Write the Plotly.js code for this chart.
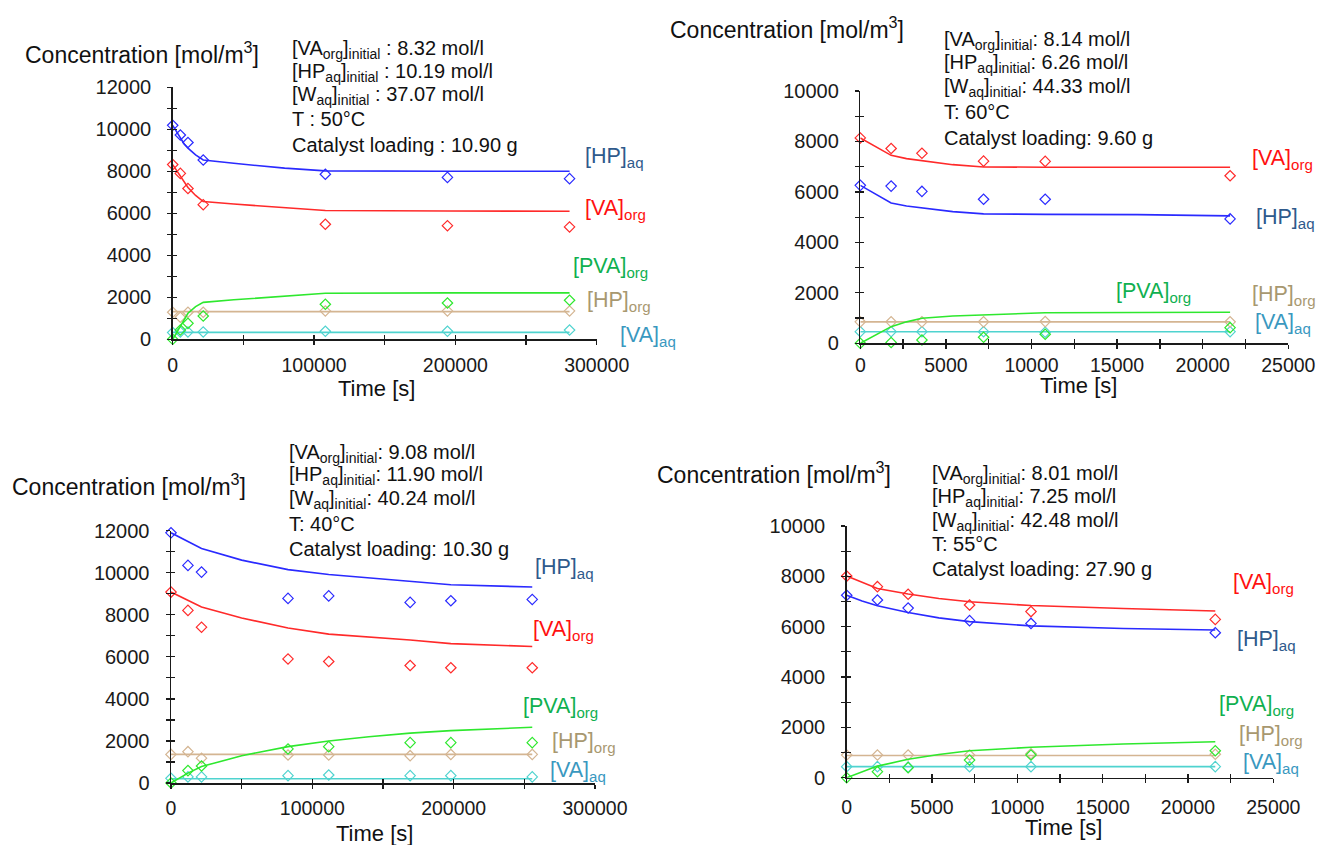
<!DOCTYPE html>
<html>
<head>
<meta charset="utf-8">
<script src="https://cdn.plot.ly/plotly-3.0.1.min.js"></script>
<style>html,body{margin:0;padding:0;background:#fff;}#chart{width:1319px;height:845px;}</style>
</head>
<body>
<div id="chart"></div>
<script>
// ---------------- DATA ----------------
const speciesNames = ["HPaq", "VAorg", "PVAorg", "HPorg", "VAaq"];
const speciesLabels = ["[HP]<sub>aq</sub>", "[VA]<sub>org</sub>", "[PVA]<sub>org</sub>", "[HP]<sub>org</sub>", "[VA]<sub>aq</sub>"];

// Panel 1 (50 °C)
const p1_t      = [0, 5400, 10800, 21600, 108000, 194400, 280800];
const p1_HPaq   = [10190, 9730, 9370, 8540, 7860, 7710, 7650];
const p1_VAorg  = [8320, 7900, 7180, 6410, 5480, 5410, 5350];
const p1_PVAorg = [0, 440, 760, 1110, 1670, 1730, 1860];
const p1_HPorg  = [1290, 1050, 1290, 1290, 1350, 1350, 1350];
const p1_VAaq   = [320, 350, 350, 350, 380, 380, 440];
const p1_fit_t      = [0, 2700, 5400, 8100, 10800, 16200, 21600, 43200, 79200, 108000, 194400, 280800];
const p1_fit_HPaq   = [10190, 9880, 9570, 9300, 9100, 8780, 8540, 8380, 8150, 8020, 8000, 8000];
const p1_fit_VAorg  = [8320, 8050, 7750, 7450, 7230, 6850, 6560, 6440, 6250, 6130, 6110, 6100];
const p1_fit_PVAorg = [0, 320, 620, 950, 1240, 1560, 1760, 1880, 2050, 2190, 2210, 2210];
const p1_fit_HPorg  = [1320, 1320, 1320, 1320, 1320, 1320, 1320, 1320, 1320, 1320, 1320, 1320];
const p1_fit_VAaq   = [330, 330, 330, 330, 330, 330, 330, 330, 330, 330, 330, 330];
const p1_info = ["[VA<sub>org</sub>]<sub>initial</sub> : 8.32 mol/l", "[HP<sub>aq</sub>]<sub>initial</sub> : 10.19 mol/l", "[W<sub>aq</sub>]<sub>initial</sub> : 37.07 mol/l", "T : 50°C", "Catalyst loading : 10.90 g"];

// Panel 2 (60 °C)
const p2_t      = [0, 1800, 3600, 7200, 10800, 21600];
const p2_HPaq   = [6260, 6230, 6020, 5710, 5710, 4930];
const p2_VAorg  = [8140, 7720, 7530, 7220, 7210, 6640];
const p2_PVAorg = [0, 30, 130, 240, 360, 620];
const p2_HPorg  = [850, 850, 850, 850, 860, 850];
const p2_VAaq   = [460, 460, 460, 460, 440, 460];
const p2_fit_t      = [0, 900, 1800, 2700, 3600, 5400, 7200, 9000, 10800, 16200, 21600];
const p2_fit_HPaq   = [6260, 5900, 5560, 5440, 5360, 5220, 5130, 5110, 5110, 5100, 5050];
const p2_fit_VAorg  = [8140, 7780, 7450, 7320, 7240, 7080, 6990, 6980, 6980, 6980, 6980];
const p2_fit_PVAorg = [0, 340, 660, 850, 990, 1080, 1130, 1190, 1210, 1220, 1230];
const p2_fit_HPorg  = [850, 850, 850, 850, 850, 850, 850, 850, 850, 850, 850];
const p2_fit_VAaq   = [460, 460, 460, 460, 460, 460, 460, 460, 460, 460, 460];
const p2_info = ["[VA<sub>org</sub>]<sub>initial</sub>: 8.14 mol/l", "[HP<sub>aq</sub>]<sub>initial</sub>: 6.26 mol/l", "[W<sub>aq</sub>]<sub>initial</sub>: 44.33 mol/l", "T: 60°C", "Catalyst loading: 9.60 g"];

// Panel 3 (40 °C)
const p3_t      = [0, 12000, 21600, 82800, 111600, 169200, 198000, 255600];
const p3_HPaq   = [11900, 10350, 10030, 8780, 8900, 8590, 8670, 8730];
const p3_VAorg  = [9080, 8210, 7410, 5900, 5780, 5590, 5480, 5480];
const p3_PVAorg = [0, 590, 810, 1620, 1730, 1920, 1920, 1920];
const p3_HPorg  = [1360, 1490, 1180, 1330, 1330, 1300, 1360, 1360];
const p3_VAaq   = [220, 290, 290, 350, 380, 350, 350, 290];
const p3_fit_t      = [0, 12000, 21600, 50000, 82800, 111600, 140000, 169200, 198000, 255600];
const p3_fit_HPaq   = [11900, 11500, 11150, 10600, 10150, 9920, 9750, 9580, 9430, 9320];
const p3_fit_VAorg  = [9080, 8700, 8370, 7850, 7370, 7080, 6950, 6800, 6630, 6490];
const p3_fit_PVAorg = [0, 470, 780, 1300, 1730, 2000, 2200, 2370, 2490, 2650];
const p3_fit_HPorg  = [1360, 1360, 1360, 1360, 1360, 1360, 1360, 1360, 1360, 1360];
const p3_fit_VAaq   = [200, 200, 200, 200, 200, 200, 200, 200, 200, 200];
const p3_info = ["[VA<sub>org</sub>]<sub>initial</sub>: 9.08 mol/l", "[HP<sub>aq</sub>]<sub>initial</sub>: 11.90 mol/l", "[W<sub>aq</sub>]<sub>initial</sub>: 40.24 mol/l", "T: 40°C", "Catalyst loading: 10.30 g"];

// Panel 4 (55 °C)
const p4_t      = [0, 1800, 3600, 7200, 10800, 21600];
const p4_HPaq   = [7250, 7060, 6740, 6240, 6130, 5760];
const p4_VAorg  = [8010, 7590, 7290, 6860, 6600, 6290];
const p4_PVAorg = [0, 240, 400, 700, 900, 1070];
const p4_HPorg  = [900, 900, 900, 900, 950, 930];
const p4_VAaq   = [440, 440, 420, 440, 440, 440];
const p4_fit_t      = [0, 900, 1800, 3600, 5400, 7200, 10800, 16200, 21600];
const p4_fit_HPaq   = [7250, 7020, 6830, 6560, 6350, 6200, 6030, 5930, 5870];
const p4_fit_VAorg  = [8010, 7750, 7520, 7300, 7120, 6990, 6840, 6720, 6620];
const p4_fit_PVAorg = [0, 230, 460, 730, 920, 1070, 1210, 1340, 1430];
const p4_fit_HPorg  = [880, 880, 880, 880, 880, 880, 880, 880, 880];
const p4_fit_VAaq   = [440, 440, 440, 440, 440, 440, 440, 440, 440];
const p4_info = ["[VA<sub>org</sub>]<sub>initial</sub>: 8.01 mol/l", "[HP<sub>aq</sub>]<sub>initial</sub>: 7.25 mol/l", "[W<sub>aq</sub>]<sub>initial</sub>: 42.48 mol/l", "T: 55°C", "Catalyst loading: 27.90 g"];

const yTitle = "Concentration [mol/m<sup>3</sup>]";
const xTitle = "Time [s]";

// ---------------- STYLE / LAYOUT ----------------
const W = 1319, H = 845;
const FONT = "Arial, 'Liberation Sans', sans-serif";
const lineColors  = {HPaq: "#2a2aff", VAorg: "#ff2a2a", PVAorg: "#2ee82e", HPorg: "#d4b592", VAaq: "#4fd3cf"};
const labelColors = {HPaq: "#2f5a8c", VAorg: "#ff1010", PVAorg: "#10b050", HPorg: "#a89870", VAaq: "#3a98bf"};

const panels = [
  {t: p1_t, d: {HPaq: p1_HPaq, VAorg: p1_VAorg, PVAorg: p1_PVAorg, HPorg: p1_HPorg, VAaq: p1_VAaq},
   ft: p1_fit_t, f: {HPaq: p1_fit_HPaq, VAorg: p1_fit_VAorg, PVAorg: p1_fit_PVAorg, HPorg: p1_fit_HPorg, VAaq: p1_fit_VAaq},
   info: p1_info, xso: 4,
   box: {x0: 172.7, x1: 596.7, yb: 339.3, yt: 87.3}, xr: [0, 300000], yr: [0, 12000], xd: 100000, xm: 50000, yd: 2000, ym: 1000,
   title: [23, 53], xt: [376, 388], infoPos: [290, [49, 72, 96, 119.5, 144.5]],
   labels: {HPaq: [583, 158], VAorg: [583, 210], PVAorg: [571, 267], HPorg: [585, 302], VAaq: [618, 337]}},
  {t: p2_t, d: {HPaq: p2_HPaq, VAorg: p2_VAorg, PVAorg: p2_PVAorg, HPorg: p2_HPorg, VAaq: p2_VAaq},
   ft: p2_fit_t, f: {HPaq: p2_fit_HPaq, VAorg: p2_fit_VAorg, PVAorg: p2_fit_PVAorg, HPorg: p2_fit_HPorg, VAaq: p2_fit_VAaq},
   info: p2_info, xso: 0,
   box: {x0: 860.3, x1: 1288.3, yb: 343.3, yt: 91}, xr: [0, 25000], yr: [0, 10000], xd: 5000, xm: 2500, yd: 2000, ym: 1000,
   title: [668, 28], xt: [1078, 385], infoPos: [942, [40, 63.5, 87, 112, 138]],
   labels: {VAorg: [1250, 160], HPaq: [1254, 218], PVAorg: [1114, 292], HPorg: [1250, 295], VAaq: [1253, 323]}},
  {t: p3_t, d: {HPaq: p3_HPaq, VAorg: p3_VAorg, PVAorg: p3_PVAorg, HPorg: p3_HPorg, VAaq: p3_VAaq},
   ft: p3_fit_t, f: {HPaq: p3_fit_HPaq, VAorg: p3_fit_VAorg, PVAorg: p3_fit_PVAorg, HPorg: p3_fit_HPorg, VAaq: p3_fit_VAaq},
   info: p3_info, xso: 3,
   box: {x0: 171, x1: 595, yb: 783, yt: 530.7}, xr: [0, 300000], yr: [0, 12000], xd: 100000, xm: 50000, yd: 2000, ym: 1000,
   title: [10, 485], xt: [375, 833], infoPos: [287, [453, 476, 499.5, 524, 548.5]],
   labels: {HPaq: [533, 568], VAorg: [531, 630], PVAorg: [521, 707], HPorg: [550, 742], VAaq: [548, 771]}},
  {t: p4_t, d: {HPaq: p4_HPaq, VAorg: p4_VAorg, PVAorg: p4_PVAorg, HPorg: p4_HPorg, VAaq: p4_VAaq},
   ft: p4_fit_t, f: {HPaq: p4_fit_HPaq, VAorg: p4_fit_VAorg, PVAorg: p4_fit_PVAorg, HPorg: p4_fit_HPorg, VAaq: p4_fit_VAaq},
   info: p4_info, xso: 7,
   box: {x0: 846.7, x1: 1273.3, yb: 777.7, yt: 526}, xr: [0, 25000], yr: [0, 10000], xd: 5000, xm: 2500, yd: 2000, ym: 1000,
   title: [655, 473], xt: [1063, 827], infoPos: [930, [474, 497, 521, 543.5, 568.5]],
   labels: {VAorg: [1231, 583], HPaq: [1235, 640], PVAorg: [1217, 705], HPorg: [1237, 735], VAaq: [1241, 763]}}
];

const px = v => v / W;
const py = v => 1 - v / H;
const AX = "#1a1a1a";

const traces = [];
const layout = {
  width: W, height: H, margin: {l: 0, r: 0, t: 0, b: 0},
  paper_bgcolor: "#ffffff", plot_bgcolor: "rgba(0,0,0,0)",
  showlegend: false, font: {family: FONT, color: "#1a1a1a"},
  annotations: []
};

panels.forEach((p, i) => {
  const n = i + 1, m = i + 5;
  const xs = n === 1 ? "" : String(n);
  const xId = "x" + xs, yId = "y" + xs;
  const xDom = [px(p.box.x0), px(p.box.x1)];
  const yDom = [py(p.box.yb), py(p.box.yt)];
  layout["xaxis" + xs] = {
    domain: xDom, range: p.xr, anchor: yId, showgrid: false, zeroline: false,
    showline: true, linecolor: AX, linewidth: 1.5,
    ticks: "outside", ticklen: 4, tickwidth: 1.2, tickcolor: AX, dtick: p.xd, tick0: 0,
    minor: {dtick: p.xm, ticks: "outside", ticklen: 4, tickwidth: 1.2, tickcolor: AX, showgrid: false},
    tickformat: "d", tickfont: {family: FONT, size: 19.5, color: "#1a1a1a"}, ticklabelstandoff: p.xso,
    fixedrange: true
  };
  layout["yaxis" + xs] = {
    domain: yDom, range: p.yr, anchor: xId, showgrid: false, zeroline: false,
    showline: true, linecolor: AX, linewidth: 1.5,
    ticks: "outside", ticklen: 4, tickwidth: 1.2, tickcolor: AX, dtick: p.yd, tick0: 0,
    minor: {dtick: p.ym, ticks: "outside", ticklen: 4, tickwidth: 1.2, tickcolor: AX, showgrid: false},
    tickformat: "d", tickfont: {family: FONT, size: 20, color: "#1a1a1a"}, ticklabelstandoff: 12,
    fixedrange: true
  };
  // overlay axes giving the inner half of crossing ticks
  layout["xaxis" + m] = {
    domain: xDom, range: p.xr, anchor: "y" + m, overlaying: xId, showgrid: false, zeroline: false,
    showline: false, ticks: "inside", ticklen: 4, tickwidth: 1.2, tickcolor: AX, dtick: p.xm, tick0: 0,
    showticklabels: false, fixedrange: true
  };
  layout["yaxis" + m] = {
    domain: yDom, range: p.yr, anchor: "x" + m, overlaying: yId, showgrid: false, zeroline: false,
    showline: false, ticks: "inside", ticklen: 4, tickwidth: 1.2, tickcolor: AX, dtick: p.ym, tick0: 0,
    showticklabels: false, fixedrange: true
  };
  traces.push({type: "scatter", mode: "lines", x: [], y: [], xaxis: "x" + m, yaxis: "y" + m, hoverinfo: "skip"});

  ["VAaq", "HPorg", "PVAorg", "VAorg", "HPaq"].forEach(s => {
    traces.push({
      type: "scatter", mode: "lines", x: p.ft, y: p.f[s], xaxis: xId, yaxis: yId,
      line: {color: lineColors[s], width: 1.6}, cliponaxis: false, hoverinfo: "skip"
    });
    traces.push({
      type: "scatter", mode: "markers", x: p.t, y: p.d[s], xaxis: xId, yaxis: yId,
      marker: {symbol: "diamond-open", size: 8, color: lineColors[s], line: {width: 1.2, color: lineColors[s]}},
      cliponaxis: false, hoverinfo: "skip"
    });
  });

  speciesNames.forEach((s, k) => {
    const pos = p.labels[s];
    layout.annotations.push({
      xref: "paper", yref: "paper", x: px(pos[0]), y: py(pos[1]), xanchor: "left", yanchor: "middle",
      text: speciesLabels[k], showarrow: false, font: {family: FONT, size: 21.5, color: labelColors[s]}
    });
  });

  layout.annotations.push({
    xref: "paper", yref: "paper", x: px(p.title[0]), y: py(p.title[1]), xanchor: "left", yanchor: "middle",
    text: yTitle, showarrow: false, font: {family: FONT, size: 23, color: "#111"}
  });
  layout.annotations.push({
    xref: "paper", yref: "paper", x: px(p.xt[0]), y: py(p.xt[1]), xanchor: "center", yanchor: "middle",
    text: xTitle, showarrow: false, font: {family: FONT, size: 22, color: "#111"}
  });
  p.info.forEach((line, k) => {
    layout.annotations.push({
      xref: "paper", yref: "paper", x: px(p.infoPos[0]), y: py(p.infoPos[1][k]), xanchor: "left", yanchor: "middle",
      text: line, showarrow: false, font: {family: FONT, size: 20, color: "#111"}
    });
  });
});

Plotly.newPlot("chart", traces, layout, {staticPlot: true, displayModeBar: false});
</script>
</body>
</html>
